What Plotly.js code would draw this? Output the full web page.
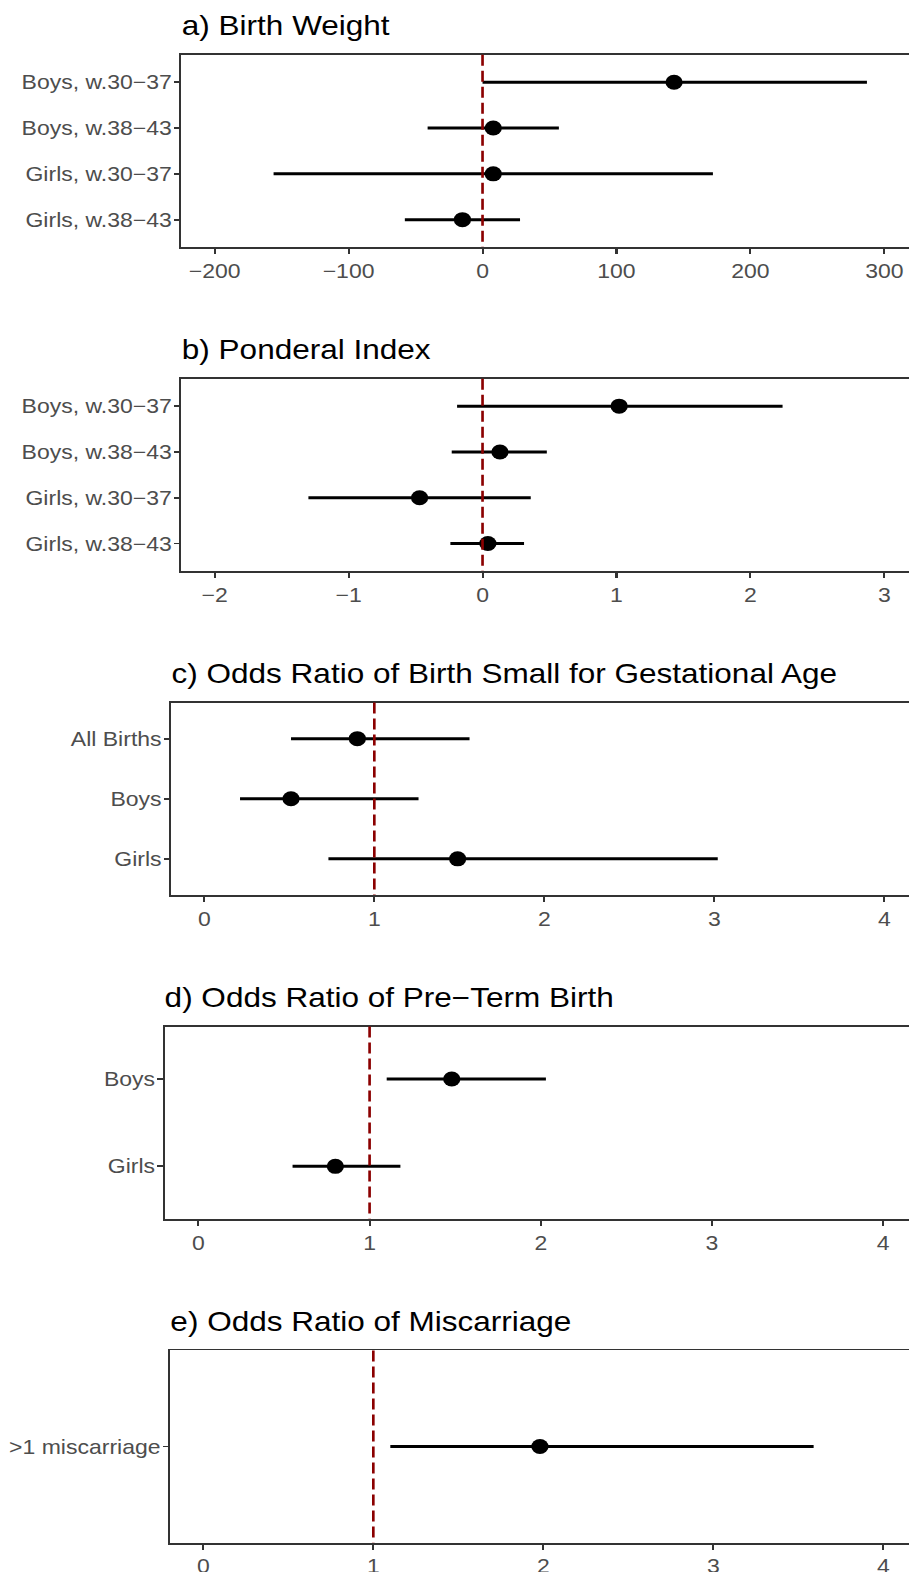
<!DOCTYPE html>
<html>
<head>
<meta charset="utf-8">
<script src="https://cdn.plot.ly/plotly-3.0.1.min.js"></script>
<style>
  html, body { margin: 0; padding: 0; background: #ffffff; overflow: hidden; }
  #chart { width: 790px; height: 1572px; transform: scaleX(1.150633); transform-origin: 0 0; }
</style>
</head>
<body>
<div id="chart"></div>
<script>
// ---------------- data ----------------
const titles = [
  "a) Birth Weight",
  "b) Ponderal Index",
  "c) Odds Ratio of Birth Small for Gestational Age",
  "d) Odds Ratio of Pre\u2212Term Birth",
  "e) Odds Ratio of Miscarriage"
];

const catsAB = ["Boys, w.30\u221237", "Boys, w.38\u221243", "Girls, w.30\u221237", "Girls, w.38\u221243"];
const bwEst  = [143, 8, 8, -15];
const bwLow  = [0, -41, -156, -58];
const bwHigh = [287, 57, 172, 28];

const piEst  = [1.02, 0.13, -0.47, 0.04];
const piLow  = [-0.19, -0.23, -1.30, -0.24];
const piHigh = [2.24, 0.48, 0.36, 0.31];

const catsC   = ["All Births", "Boys", "Girls"];
const sgaEst  = [0.90, 0.51, 1.49];
const sgaLow  = [0.51, 0.21, 0.73];
const sgaHigh = [1.56, 1.26, 3.02];

const catsD   = ["Boys", "Girls"];
const ptbEst  = [1.48, 0.80];
const ptbLow  = [1.10, 0.55];
const ptbHigh = [2.03, 1.18];

const catsE   = [">1 miscarriage"];
const misEst  = [1.98];
const misLow  = [1.10];
const misHigh = [3.59];

const refLines = [0, 0, 1, 1, 1];
const xTickStep = [100, 1, 1, 1, 1];

// ---------------- layout geometry ----------------
const H = 1572, REFW = 909, W = 790;
const panelTop  = [54.8, 378.7, 702.6, 1026.5, 1350.4];
const panelH    = 192.3;
const panelLeft = [181.3, 181.3, 171, 164.5, 170];
const xRanges   = [[-224.9, 318.4], [-2.249, 3.184], [-0.196, 4.145], [-0.198, 4.151], [-0.196, 4.151]];

const panels = [
  {cats: catsAB, est: bwEst,  low: bwLow,  high: bwHigh},
  {cats: catsAB, est: piEst,  low: piLow,  high: piHigh},
  {cats: catsC,  est: sgaEst, low: sgaLow, high: sgaHigh},
  {cats: catsD,  est: ptbEst, low: ptbLow, high: ptbHigh},
  {cats: catsE,  est: misEst, low: misLow, high: misHigh}
];

const FONT = "Liberation Sans, Arial, Helvetica, sans-serif";
const AXC = "#333333";
const TICKC = "#4D4D4D";

const data = [];
const layout = {
  width: W, height: H,
  margin: {l: 0, r: 0, t: 0, b: 0},
  paper_bgcolor: "#ffffff", plot_bgcolor: "#ffffff",
  showlegend: false,
  font: {family: FONT},
  annotations: [], shapes: []
};

panels.forEach((p, i) => {
  const n = i + 1;
  const xa = n === 1 ? "x" : "x" + n;
  const ya = n === 1 ? "y" : "y" + n;
  const xKey = n === 1 ? "xaxis" : "xaxis" + n;
  const yKey = n === 1 ? "yaxis" : "yaxis" + n;

  data.push({
    type: "scatter", mode: "markers",
    x: p.est, y: p.cats, xaxis: xa, yaxis: ya,
    marker: {color: "#000000", size: 15, line: {width: 0}},
    error_x: {
      type: "data", symmetric: false,
      array: p.high.map((h, k) => h - p.est[k]),
      arrayminus: p.low.map((l, k) => p.est[k] - l),
      color: "#000000", thickness: 3, width: 0
    },
    hoverinfo: "skip", cliponaxis: false
  });

  const top = panelTop[i], bot = top + panelH;
  layout[xKey] = {
    domain: [panelLeft[i] / REFW, 1],
    range: xRanges[i],
    anchor: ya,
    showline: true, mirror: true, linecolor: AXC, linewidth: 1.8,
    ticks: "outside", ticklen: 5, tickwidth: 1.8, tickcolor: AXC,
    tick0: 0, dtick: xTickStep[i],
    showgrid: false, zeroline: false,
    tickfont: {family: FONT, size: 20, color: TICKC},
    fixedrange: true
  };
  layout[yKey] = {
    domain: [1 - bot / H, 1 - top / H],
    anchor: xa,
    type: "category",
    categoryorder: "array", categoryarray: p.cats,
    range: [p.cats.length - 0.4, -0.6],
    showline: true, mirror: false, linecolor: AXC, linewidth: 1.7,
    ticks: "outside", ticklen: 4.5, tickwidth: 1.8, tickcolor: AXC,
    ticklabelstandoff: -2,
    showgrid: false, zeroline: false,
    tickfont: {family: FONT, size: 20, color: TICKC},
    fixedrange: true
  };

  layout.shapes.push({
    type: "line", layer: "above",
    xref: xa, yref: ya + " domain",
    x0: refLines[i], x1: refLines[i], y0: 1, y1: 0,
    line: {color: "#8B0000", width: 2.3, dash: "11px,5px"}
  });

  layout.annotations.push({
    text: titles[i],
    xref: "paper", yref: "paper",
    x: panelLeft[i] / REFW, y: 1 - (top - 29.3) / H,
    xanchor: "left", yanchor: "middle",
    showarrow: false, borderpad: 0, borderwidth: 0,
    font: {family: FONT, size: 27.4, color: "#000000"}
  });
});

Plotly.newPlot("chart", data, layout, {displayModeBar: false, responsive: false, staticPlot: true});
</script>
</body>
</html>
